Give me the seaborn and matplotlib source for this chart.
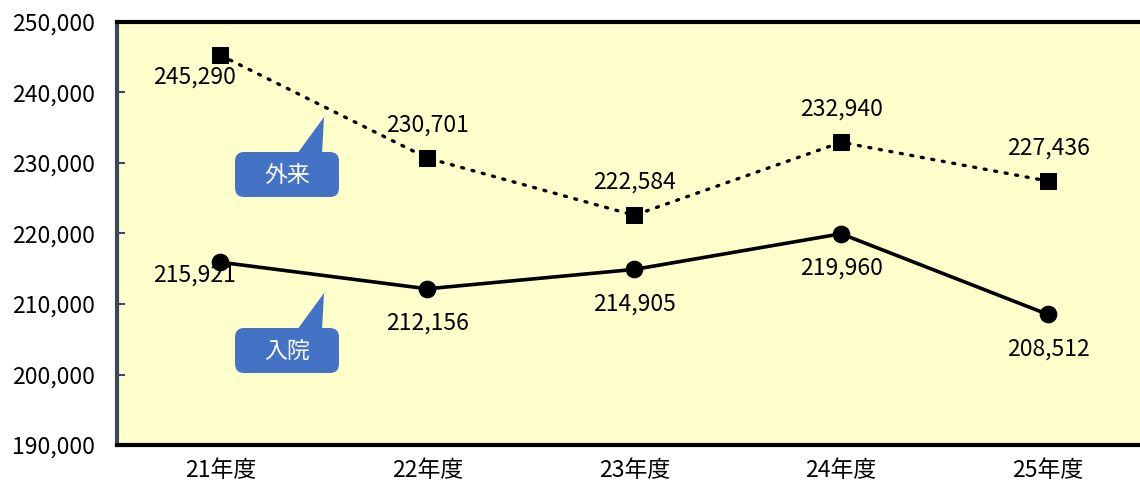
import matplotlib
matplotlib.use("Agg")
import matplotlib.pyplot as plt
import seaborn as sns
import pandas as pd
from matplotlib.patches import FancyBboxPatch, Polygon

years = ["21年度", "22年度", "23年度", "24年度", "25年度"]
outpatient = [245290, 230701, 222584, 232940, 227436]
inpatient = [215921, 212156, 214905, 219960, 208512]
series_names = ["外来", "入院"]
y_ticks = [190000, 200000, 210000, 220000, 230000, 240000, 250000]

sns.set_theme(style="white")
plt.rcParams["font.family"] = ["Noto Sans CJK JP", "DejaVu Sans"]
plt.rcParams["text.color"] = "black"
plt.rcParams["xtick.color"] = "black"
plt.rcParams["ytick.color"] = "black"

FS = 16.5
W, H = 1140, 487
fig = plt.figure(figsize=(W / 100, H / 100), dpi=100)
fig.patch.set_facecolor("white")
ax = fig.add_axes([117 / W, (H - 445) / H, (1151.5 - 117) / W, (445 - 22) / H])
ax.set_facecolor("#FFFFCC")

df_out = pd.DataFrame({"year": years, "value": outpatient})
df_in = pd.DataFrame({"year": years, "value": inpatient})

sns.lineplot(data=df_out, x="year", y="value", ax=ax, color="black",
             linewidth=2.4, marker="s", markersize=11, markeredgecolor="black",
             sort=False)
ax.lines[-1].set_linestyle((0, (0.6, 2.6)))
ax.lines[-1].set_dash_capstyle("round")
sns.lineplot(data=df_in, x="year", y="value", ax=ax, color="black",
             linewidth=2.6, marker="o", markersize=12, markeredgecolor="black",
             sort=False)

ax.set_xlim(-0.5, 4.5)
ax.set_ylim(190000, 250000)
ax.set_yticks(y_ticks)
ax.set_yticklabels([f"{v:,}" for v in y_ticks])
ax.set_xlabel("")
ax.set_ylabel("")
ax.tick_params(axis="y", direction="in", length=6, width=1.5, color="#3A4A5C",
               labelcolor="black", labelsize=FS, pad=16, left=True)
ax.tick_params(axis="x", length=0, labelsize=FS, labelcolor="black", pad=10)

for side in ["top", "bottom"]:
    ax.spines[side].set_color("black")
    ax.spines[side].set_linewidth(3)
ax.spines["left"].set_color("#3A4A5C")
ax.spines["left"].set_linewidth(3)
ax.spines["right"].set_visible(False)

# data labels
for i, v in enumerate(outpatient):
    if i == 0:
        ax.annotate(f"{v:,}", (i, v), xytext=(-19, -16), textcoords="offset points",
                    ha="center", va="center", fontsize=FS, color="black")
    else:
        ax.annotate(f"{v:,}", (i, v), xytext=(0, 24), textcoords="offset points",
                    ha="center", va="center", fontsize=FS, color="black")
for i, v in enumerate(inpatient):
    if i == 0:
        ax.annotate(f"{v:,}", (i, v), xytext=(-19, -9), textcoords="offset points",
                    ha="center", va="center", fontsize=FS, color="black")
    else:
        ax.annotate(f"{v:,}", (i, v), xytext=(0, -25), textcoords="offset points",
                    ha="center", va="center", fontsize=FS, color="black")

# callouts (figure pixel coords)
def fx(px):
    return px / W

def fy(py):
    return (H - py) / H

blue = "#4472C4"
for name, top in zip(series_names, [152, 328]):
    box = FancyBboxPatch((fx(235), fy(top + 45)), fx(339) - fx(235), fy(top) - fy(top + 45),
                         boxstyle="round,pad=0,rounding_size=0.008",
                         transform=fig.transFigure, facecolor=blue, edgecolor="none",
                         mutation_aspect=W / H, zorder=5)
    fig.patches.append(box)
    tri = Polygon([(fx(297), fy(top + 2)), (fx(322), fy(top + 2)), (fx(324), fy(top - 35))],
                  closed=True, transform=fig.transFigure, facecolor=blue,
                  edgecolor="none", zorder=5)
    fig.patches.append(tri)
    fig.text(fx(287), fy(top + 23), name, color="white", fontsize=FS,
             ha="center", va="center", zorder=6)

fig.savefig("out.png", dpi=100)
